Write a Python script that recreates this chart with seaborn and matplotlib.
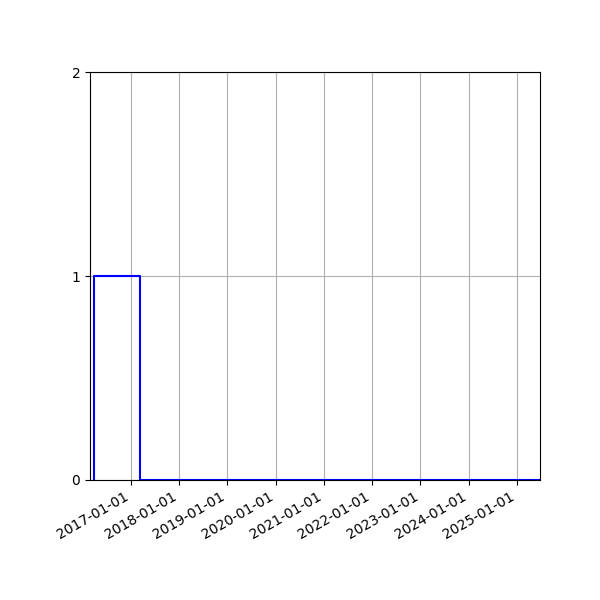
import matplotlib
matplotlib.use("Agg")
import matplotlib.pyplot as plt
import matplotlib.dates as mdates
import seaborn as sns
import pandas as pd

# Data (step series of 0/1 values)
dates = ["2016-03-26", "2016-03-27", "2017-03-12", "2025-06-23"]
values = [0, 1, 0, 0]
x_start = "2016-02-28"
x_end = "2025-06-23"
y_ticks = [0, 1, 2]

df = pd.DataFrame({"date": pd.to_datetime(dates), "value": values})

fig, ax = plt.subplots(figsize=(6, 6), dpi=100)
sns.lineplot(data=df, x="date", y="value", ax=ax, color="blue",
             drawstyle="steps-post", linewidth=1.5)

ax.set_xlim(pd.Timestamp(x_start), pd.Timestamp(x_end))
ax.set_ylim(0, 2)
ax.set_yticks(y_ticks)
ax.xaxis.set_major_locator(mdates.YearLocator())
ax.xaxis.set_major_formatter(mdates.DateFormatter("%Y-%m-%d"))
ax.grid(True)
ax.set_xlabel("")
ax.set_ylabel("")
fig.autofmt_xdate()
fig.subplots_adjust(left=0.15, right=0.9, top=0.88, bottom=0.2)
fig.savefig("out.png", dpi=100)
